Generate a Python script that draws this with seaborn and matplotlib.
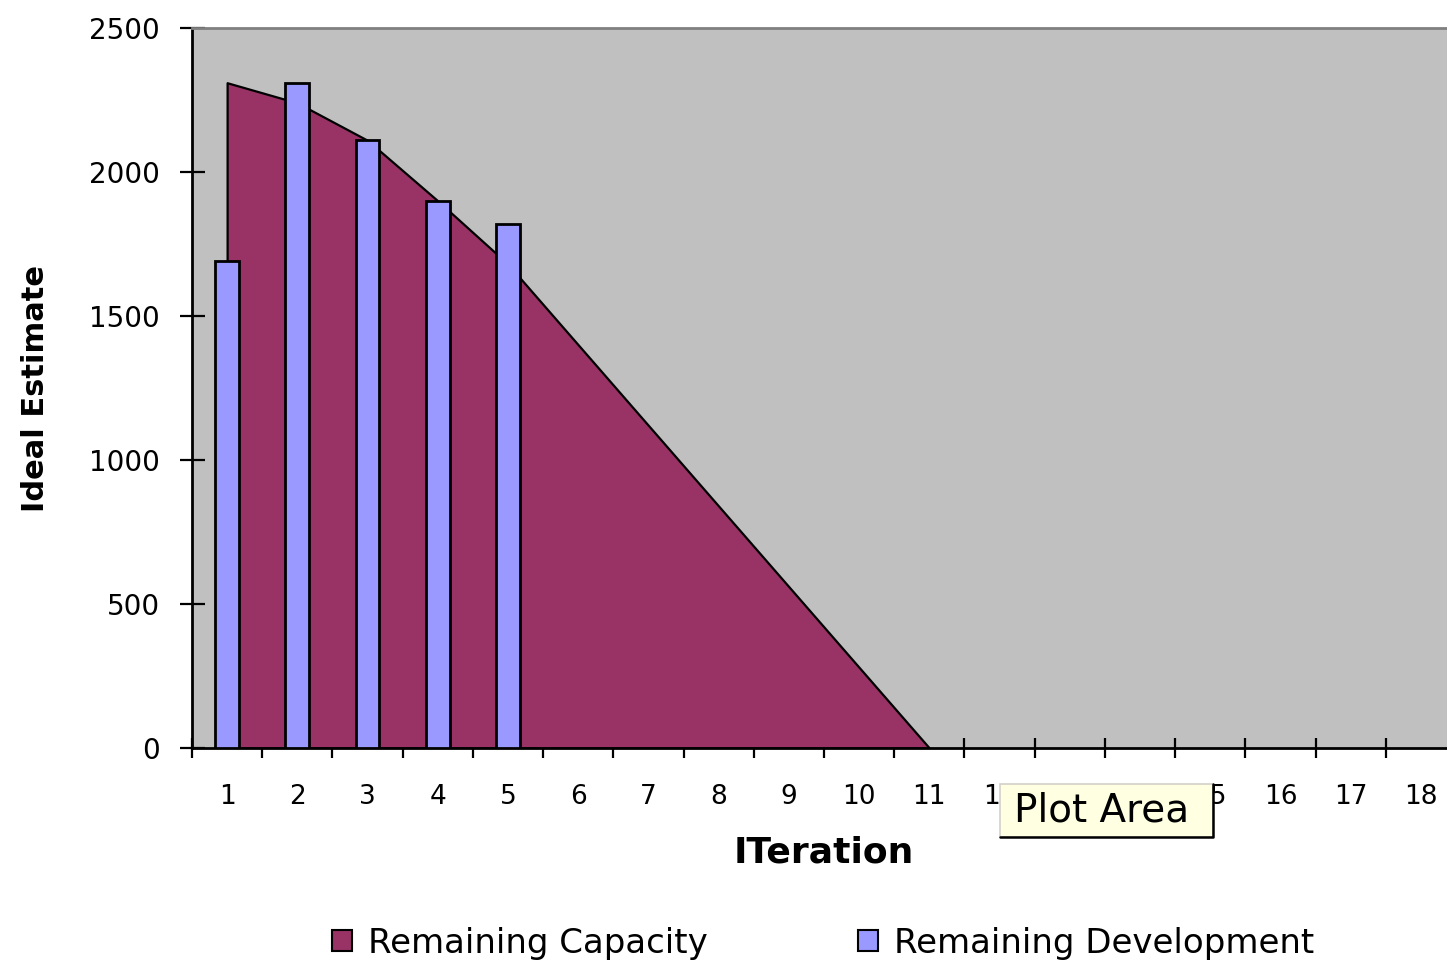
import matplotlib
matplotlib.use("Agg")
import numpy as np
import matplotlib.pyplot as plt
import seaborn as sns
from matplotlib.patches import Patch, Rectangle
from matplotlib.lines import Line2D

# Iterations on the category axis
iterations = list(range(1, 19))

# Remaining capacity (area series)
capacity_iter = list(range(1, 12))
remaining_capacity = [2310, 2240, 2110, 1900, 1680, 1400, 1120, 840, 560, 280, 0]

# Remaining development (column series)
development_iter = [1, 2, 3, 4, 5]
remaining_development = [1690, 2310, 2110, 1900, 1820]

y_ticks = [0, 500, 1000, 1500, 2000, 2500]

CAP_COLOR = "#993366"
DEV_COLOR = "#9999FF"
PLOT_BG = "#C0C0C0"

sns.set_theme(style="white")
plt.rcParams["font.family"] = ["DejaVu Sans"]
plt.rcParams["text.color"] = "black"

W, H = 1447, 961
fig = plt.figure(figsize=(W / 100, H / 100), dpi=100)
fig.patch.set_facecolor("white")

# plot area runs a little past the right edge of the figure
ax = fig.add_axes([192 / W, 1 - 748 / H, 1264 / W, 720 / H])
ax.set_facecolor(PLOT_BG)

# area series at category positions
cap_pos = [iterations.index(i) for i in capacity_iter]
ax.fill_between(cap_pos, remaining_capacity, 0, facecolor=CAP_COLOR,
                edgecolor="black", linewidth=1.6, zorder=1)

# column series
sns.barplot(x=development_iter, y=remaining_development, order=iterations,
            color=DEV_COLOR, saturation=1, width=0.34, edgecolor="black",
            linewidth=2, errorbar=None, ax=ax, zorder=3)

ax.set_xlim(-0.5, len(iterations) - 0.5)
ax.set_ylim(0, 2500)

# tick marks between categories, labels at category centres
ax.set_xticks(np.arange(-0.5, len(iterations), 1.0),
              labels=[""] * (len(iterations) + 1))
ax.set_xticks(np.arange(len(iterations)), minor=True)
ax.set_xticklabels([str(i) for i in iterations], minor=True)
ax.tick_params(axis="x", which="major", direction="inout", length=14,
               width=1.6, color="black", bottom=True)
ax.tick_params(axis="x", which="minor", length=0, pad=26, labelsize=19,
               labelcolor="black", bottom=True)

ax.set_yticks(y_ticks)
ax.set_yticklabels([str(v) for v in y_ticks])
ax.tick_params(axis="y", direction="inout", length=18, width=1.6,
               color="black", pad=14, labelsize=20, labelcolor="black",
               left=True)

for side in ("left", "bottom"):
    ax.spines[side].set_color("black")
    ax.spines[side].set_linewidth(2)
ax.spines["top"].set_color("#808080")
ax.spines["top"].set_linewidth(2)
ax.spines["right"].set_visible(False)
ax.grid(False)

ax.set_ylabel("Ideal Estimate", fontsize=22, fontweight="bold", color="black")
ax.yaxis.set_label_coords(-0.112, 0.5)
ax.set_xlabel("ITeration", fontsize=26, fontweight="bold", color="black")
ax.xaxis.set_label_coords(0.5, -0.122)

handles = [
    Patch(facecolor=CAP_COLOR, edgecolor="black", linewidth=1.5,
          label="Remaining Capacity"),
    Patch(facecolor=DEV_COLOR, edgecolor="black", linewidth=1.5,
          label="Remaining Development"),
]
leg = fig.legend(handles=handles, loc="center",
                 bbox_to_anchor=(823 / W, 1 - 943 / H), ncol=2, frameon=False,
                 fontsize=24.5, handlelength=0.6, handleheight=0.6,
                 handletextpad=0.47, columnspacing=4.4)
for t in leg.get_texts():
    t.set_color("black")

# hover tooltip over the category labels
x0, x1, y0, y1 = 1000, 1213, 784, 837
fig.add_artist(Rectangle((x0 / W, 1 - y1 / H), (x1 - x0) / W, (y1 - y0) / H,
                         transform=fig.transFigure, facecolor="#FFFFE1",
                         edgecolor="#D4D0C8", linewidth=1.2, zorder=10))
fig.add_artist(Line2D([x0 / W, x1 / W, x1 / W],
                      [1 - y1 / H, 1 - y1 / H, 1 - y0 / H],
                      transform=fig.transFigure, color="black",
                      linewidth=1.8, zorder=11))
fig.text(1014 / W, 1 - 821 / H, "Plot Area", fontsize=28, color="black",
         ha="left", va="baseline", zorder=12)

fig.savefig("out.png", dpi=100)
